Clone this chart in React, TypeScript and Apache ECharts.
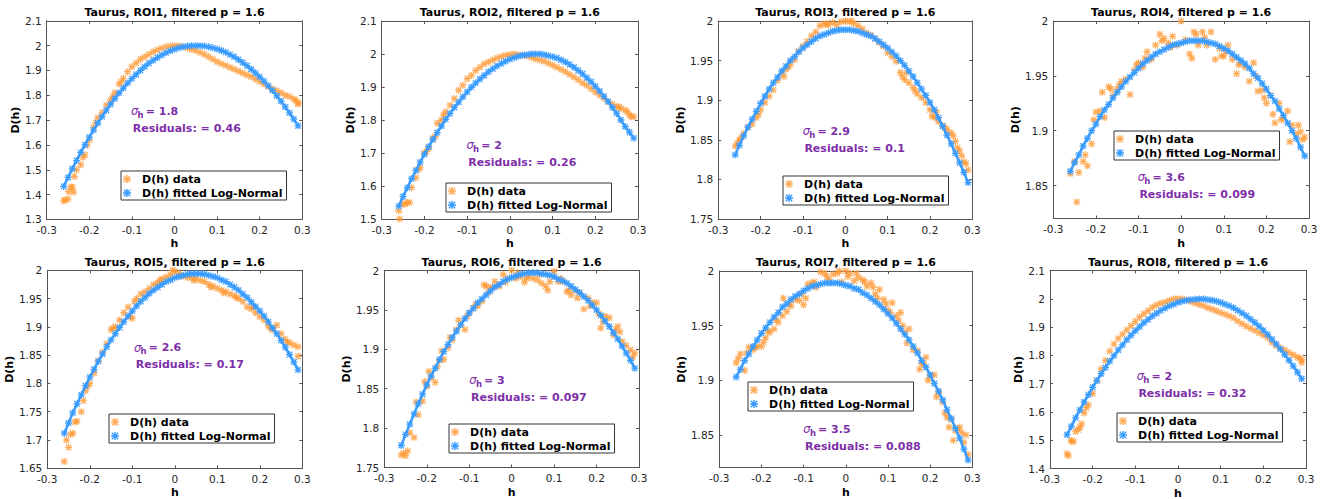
import React, { useEffect, useRef } from "react";
import * as echarts from "echarts";

// ---------- data ----------
const H = [-0.26,-0.25,-0.24,-0.23,-0.22,-0.21,-0.2,-0.19,-0.18,-0.17,-0.16,-0.15,-0.14,-0.13,-0.12,-0.11,-0.1,-0.09,-0.08,-0.07,-0.06,-0.05,-0.04,-0.03,-0.02,-0.01,0,0.01,0.02,0.03,0.04,0.05,0.06,0.07,0.08,0.09,0.1,0.11,0.12,0.13,0.14,0.15,0.16,0.17,0.18,0.19,0.2,0.21,0.22,0.23,0.24,0.25,0.26,0.27,0.28,0.29];

const ROI1_FIT = [1.433,1.469,1.504,1.537,1.570,1.601,1.631,1.660,1.688,1.714,1.740,1.764,1.787,1.809,1.829,1.849,1.867,1.884,1.900,1.915,1.929,1.941,1.952,1.962,1.971,1.979,1.985,1.991,1.995,1.998,2.000,2.000,2.000,1.998,1.995,1.991,1.986,1.980,1.973,1.964,1.955,1.944,1.932,1.919,1.905,1.890,1.874,1.857,1.838,1.819,1.798,1.776,1.753,1.729,1.704,1.677];
const ROI1_DATA = [1.375,1.382,1.430,1.500,1.520,1.560,1.620,1.670,1.710,1.730,1.760,1.780,1.810,1.845,1.868,1.895,1.915,1.930,1.945,1.955,1.965,1.975,1.983,1.990,1.995,1.998,2.000,1.999,1.995,1.990,1.985,1.980,1.972,1.965,1.955,1.945,1.935,1.927,1.920,1.912,1.905,1.897,1.890,1.882,1.875,1.865,1.855,1.845,1.835,1.825,1.818,1.810,1.800,1.795,1.785,1.770];
const ROI1_EXTRA = [[-0.257,1.378],[-0.249,1.412],[-0.243,1.43],[-0.237,1.41],[-0.235,1.473],[-0.215,1.55],[-0.205,1.6],[-0.185,1.69],[-0.145,1.795],[-0.125,1.855],[0.285,1.78],[0.29,1.765]];

const ROI2_FIT = [1.539,1.568,1.595,1.622,1.647,1.672,1.696,1.719,1.741,1.762,1.782,1.802,1.820,1.838,1.854,1.870,1.885,1.899,1.912,1.924,1.935,1.946,1.955,1.964,1.971,1.978,1.984,1.989,1.993,1.996,1.998,2.000,2.000,2.000,1.998,1.995,1.992,1.988,1.982,1.976,1.968,1.960,1.950,1.940,1.928,1.916,1.902,1.888,1.872,1.856,1.838,1.820,1.800,1.780,1.763,1.745];
const ROI2_DATA = [1.525,1.545,1.550,1.595,1.625,1.655,1.700,1.715,1.745,1.790,1.800,1.825,1.845,1.865,1.890,1.905,1.925,1.935,1.950,1.960,1.970,1.976,1.982,1.988,1.992,1.996,1.998,2.000,1.998,1.996,1.994,1.990,1.985,1.982,1.978,1.972,1.966,1.960,1.953,1.946,1.938,1.930,1.922,1.912,1.905,1.895,1.885,1.876,1.866,1.855,1.848,1.840,1.835,1.830,1.815,1.810];
const ROI2_EXTRA = [[-0.258,1.50],[-0.245,1.545],[-0.235,1.55],[-0.215,1.65],[-0.195,1.705],[-0.175,1.75],[-0.155,1.815],[0.255,1.84],[0.275,1.825],[0.285,1.81]];

const ROI3_FIT = [1.831,1.843,1.855,1.866,1.876,1.886,1.896,1.905,1.914,1.922,1.929,1.937,1.943,1.950,1.955,1.961,1.966,1.970,1.974,1.978,1.981,1.983,1.985,1.987,1.988,1.989,1.989,1.989,1.988,1.987,1.985,1.983,1.981,1.978,1.974,1.970,1.966,1.961,1.956,1.950,1.944,1.937,1.930,1.922,1.914,1.906,1.897,1.888,1.878,1.867,1.856,1.845,1.833,1.821,1.809,1.796];
const ROI3_DATA = [1.842,1.850,1.858,1.866,1.870,1.878,1.888,1.897,1.905,1.913,1.925,1.934,1.939,1.945,1.951,1.962,1.968,1.974,1.981,1.986,1.994,1.996,1.995,1.998,1.995,1.999,2.000,1.999,1.997,1.994,1.990,1.985,1.982,1.978,1.973,1.968,1.960,1.955,1.949,1.935,1.926,1.922,1.916,1.908,1.903,1.897,1.888,1.878,1.873,1.868,1.863,1.859,1.848,1.836,1.822,1.812];
const ROI3_EXTRA = [[-0.255,1.846],[-0.245,1.853],[-0.205,1.882],[-0.145,1.93],[-0.135,1.942],[-0.045,1.997],[0.015,2.0],[0.135,1.93],[0.145,1.935],[0.165,1.912],[0.205,1.88],[0.215,1.885],[0.235,1.865],[0.255,1.855],[0.265,1.84],[0.275,1.83],[0.285,1.82]];

const ROI4_FIT = [1.863,1.871,1.878,1.886,1.893,1.900,1.906,1.913,1.919,1.924,1.930,1.935,1.940,1.945,1.949,1.953,1.957,1.961,1.964,1.967,1.970,1.972,1.974,1.976,1.978,1.979,1.980,1.981,1.982,1.982,1.982,1.982,1.981,1.980,1.979,1.977,1.975,1.973,1.970,1.967,1.964,1.961,1.957,1.952,1.948,1.943,1.938,1.932,1.927,1.920,1.914,1.907,1.900,1.893,1.885,1.877];
const ROI4_DATA = [1.861,1.872,1.862,1.872,1.868,1.888,1.917,1.918,1.912,1.940,1.932,1.938,1.945,1.947,1.933,1.955,1.962,1.958,1.972,1.965,1.978,1.988,1.984,1.980,1.986,1.978,2.000,1.983,1.970,1.990,1.978,1.990,1.978,1.990,1.965,1.975,1.968,1.978,1.965,1.952,1.962,1.958,1.945,1.962,1.936,1.937,1.925,1.932,1.907,1.925,1.912,1.918,1.905,1.897,1.899,1.894];
const ROI4_EXTRA = [[-0.245,1.835],[-0.225,1.878],[-0.205,1.91],[-0.185,1.935],[-0.165,1.938],[-0.145,1.942],[-0.105,1.96],[-0.085,1.966],[-0.045,1.982],[-0.025,1.976],[0.025,1.966],[0.035,1.988],[0.055,1.985],[0.095,1.968],[0.105,1.972],[0.135,1.96],[0.175,1.95],[0.195,1.93],[0.215,1.915],[0.235,1.91],[0.255,1.89],[0.275,1.905],[0.285,1.892]];

const ROI5_FIT = [1.712,1.730,1.748,1.764,1.780,1.796,1.811,1.825,1.839,1.852,1.865,1.877,1.888,1.899,1.909,1.919,1.928,1.937,1.945,1.952,1.959,1.965,1.970,1.975,1.980,1.983,1.987,1.989,1.991,1.993,1.994,1.994,1.994,1.993,1.991,1.989,1.987,1.983,1.980,1.975,1.970,1.965,1.958,1.952,1.944,1.936,1.928,1.919,1.909,1.898,1.888,1.876,1.864,1.851,1.838,1.824];
const ROI5_DATA = [1.662,1.687,1.712,1.733,1.750,1.787,1.800,1.818,1.840,1.855,1.870,1.895,1.900,1.912,1.925,1.935,1.915,1.950,1.958,1.962,1.968,1.975,1.978,1.985,1.988,1.992,1.998,1.995,1.990,1.987,1.987,1.985,1.982,1.980,1.975,1.972,1.968,1.965,1.962,1.958,1.955,1.950,1.945,1.935,1.932,1.925,1.918,1.912,1.902,1.895,1.903,1.888,1.878,1.872,1.868,1.865];
const ROI5_EXTRA = [[-0.255,1.70],[-0.245,1.71],[-0.235,1.732],[-0.215,1.77],[-0.205,1.795],[-0.145,1.898],[-0.105,1.918],[-0.095,1.945],[-0.035,1.982],[-0.005,2.0],[0.015,1.99],[0.045,1.982],[0.085,1.97],[0.115,1.96],[0.145,1.952],[0.185,1.935],[0.225,1.898],[0.265,1.872],[0.29,1.848]];

const ROI6_FIT = [1.778,1.792,1.805,1.818,1.831,1.843,1.855,1.866,1.876,1.887,1.897,1.906,1.915,1.923,1.931,1.939,1.946,1.952,1.959,1.964,1.969,1.974,1.979,1.982,1.986,1.989,1.991,1.993,1.995,1.996,1.997,1.997,1.997,1.996,1.995,1.994,1.992,1.989,1.987,1.984,1.980,1.976,1.972,1.967,1.962,1.956,1.950,1.943,1.936,1.929,1.921,1.913,1.904,1.895,1.886,1.876];
const ROI6_DATA = [1.766,1.765,1.794,1.788,1.817,1.834,1.853,1.864,1.858,1.886,1.887,1.902,1.912,1.925,1.931,1.925,1.946,1.952,1.955,1.961,1.980,1.978,1.986,1.980,1.995,1.990,2.000,1.990,1.992,1.985,1.992,1.990,1.988,1.984,1.980,1.986,1.999,1.986,1.986,1.973,1.969,1.975,1.971,1.951,1.965,1.959,1.959,1.927,1.942,1.940,1.918,1.929,1.910,1.905,1.899,1.895];
const ROI6_EXTRA = [[-0.255,1.768],[-0.245,1.771],[-0.225,1.833],[-0.205,1.859],[-0.195,1.872],[-0.175,1.878],[-0.165,1.898],[-0.145,1.915],[-0.125,1.937],[-0.105,1.942],[-0.085,1.957],[-0.065,1.982],[-0.055,1.972],[-0.045,1.978],[-0.015,1.985],[0.015,1.997],[0.035,1.99],[0.065,1.995],[0.085,1.975],[0.115,1.99],[0.135,1.975],[0.155,1.965],[0.185,1.955],[0.205,1.945],[0.215,1.935],[0.245,1.925],[0.255,1.922],[0.285,1.89]];

const ROI7_FIT = [1.903,1.910,1.918,1.924,1.931,1.937,1.943,1.948,1.953,1.958,1.962,1.967,1.970,1.974,1.977,1.979,1.982,1.984,1.986,1.987,1.988,1.989,1.989,1.989,1.989,1.988,1.987,1.986,1.984,1.983,1.980,1.978,1.975,1.972,1.969,1.965,1.961,1.957,1.952,1.947,1.942,1.937,1.931,1.925,1.918,1.912,1.905,1.897,1.890,1.882,1.873,1.865,1.856,1.847,1.837,1.827];
const ROI7_DATA = [1.916,1.924,1.909,1.930,1.928,1.931,1.931,1.939,1.944,1.947,1.953,1.959,1.963,1.968,1.974,1.973,1.969,1.988,1.989,1.985,1.999,1.998,1.992,1.997,1.998,1.990,2.000,1.998,1.991,1.994,1.992,1.986,1.989,1.979,1.983,1.974,1.964,1.971,1.959,1.962,1.944,1.947,1.928,1.927,1.915,1.921,1.904,1.905,1.889,1.880,1.866,1.864,1.854,1.857,1.843,1.832];
const ROI7_EXTRA = [[-0.255,1.92],[-0.235,1.925],[-0.215,1.93],[-0.195,1.935],[-0.185,1.945],[-0.165,1.955],[-0.148,1.975],[-0.135,1.97],[-0.105,1.979],[-0.095,1.975],[-0.075,1.99],[-0.045,1.995],[-0.015,2.0],[0.005,1.995],[0.025,1.998],[0.045,1.99],[0.065,1.985],[0.075,1.975],[0.095,1.97],[0.105,1.962],[0.125,1.955],[0.135,1.95],[0.145,1.934],[0.175,1.91],[0.185,1.915],[0.195,1.9],[0.215,1.885],[0.235,1.87],[0.245,1.857],[0.255,1.845],[0.265,1.855],[0.275,1.852],[0.285,1.85]];

const ROI8_FIT = [1.519,1.549,1.579,1.607,1.635,1.661,1.687,1.711,1.735,1.757,1.779,1.799,1.819,1.837,1.855,1.871,1.887,1.901,1.915,1.927,1.939,1.949,1.959,1.967,1.975,1.981,1.987,1.991,1.995,1.997,1.998,1.999,1.999,1.997,1.995,1.991,1.987,1.981,1.975,1.968,1.959,1.950,1.940,1.928,1.916,1.903,1.889,1.874,1.857,1.840,1.822,1.803,1.783,1.762,1.740,1.717];
const ROI8_DATA = [1.452,1.497,1.531,1.545,1.596,1.625,1.665,1.710,1.752,1.782,1.815,1.840,1.860,1.875,1.890,1.905,1.920,1.935,1.947,1.958,1.970,1.978,1.984,1.988,1.994,1.999,2.000,1.999,1.996,1.990,1.985,1.980,1.975,1.968,1.963,1.957,1.951,1.945,1.939,1.932,1.921,1.912,1.903,1.895,1.888,1.880,1.872,1.862,1.846,1.835,1.826,1.818,1.810,1.802,1.794,1.775];
const ROI8_EXTRA = [[-0.257,1.445],[-0.249,1.499],[-0.245,1.495],[-0.234,1.537],[-0.226,1.558],[-0.215,1.614],[0.285,1.79],[0.29,1.785]];

const FITS = [ROI1_FIT, ROI2_FIT, ROI3_FIT, ROI4_FIT, ROI5_FIT, ROI6_FIT, ROI7_FIT, ROI8_FIT];
const DATAS = [ROI1_DATA, ROI2_DATA, ROI3_DATA, ROI4_DATA, ROI5_DATA, ROI6_DATA, ROI7_DATA, ROI8_DATA];
const EXTRAS = [ROI1_EXTRA, ROI2_EXTRA, ROI3_EXTRA, ROI4_EXTRA, ROI5_EXTRA, ROI6_EXTRA, ROI7_EXTRA, ROI8_EXTRA];

const TITLES = ["Taurus, ROI1, filtered p = 1.6","Taurus, ROI2, filtered p = 1.6","Taurus, ROI3, filtered p = 1.6","Taurus, ROI4, filtered p = 1.6","Taurus, ROI5, filtered p = 1.6","Taurus, ROI6, filtered p = 1.6","Taurus, ROI7, filtered p = 1.6","Taurus, ROI8, filtered p = 1.6"];
const SIGMA_H = ["1.8","2","2.9","3.6","2.6","3","3.5","2"];
const RESIDUALS = ["0.46","0.26","0.1","0.099","0.17","0.097","0.088","0.32"];
const Y_MIN = [1.3,1.5,1.75,1.82,1.65,1.75,1.82,1.4];
const Y_MAX = [2.1,2.1,2.0,2.0,2.0,2.0,2.0,2.1];
const Y_STEP = [0.1,0.1,0.05,0.05,0.05,0.05,0.05,0.1];
const X_MIN = -0.3, X_MAX = 0.3, X_STEP = 0.1;
const LEGEND_NAMES = ["D(h) data", "D(h) fitted Log-Normal"];

// ---------- layout (pixels) ----------
const LAYOUT = [
  { left: 46.7, top: 20.8, width: 255.6, height: 198.6, legend: [121, 171], note: [131, 111], yGap: 22 },
  { left: 381.7, top: 21, width: 256.3, height: 198, legend: [446, 183], note: [466.5, 145], yGap: 22 },
  { left: 718.3, top: 21, width: 254, height: 198, legend: [783, 176], note: [802.7, 131], yGap: 29 },
  { left: 1053.3, top: 21, width: 255.7, height: 197.5, legend: [1114, 131], note: [1137.7, 177], yGap: 29 },
  { left: 47.3, top: 270.3, width: 255, height: 198, legend: [109, 414], note: [134, 347.7], yGap: 28 },
  { left: 384.3, top: 270.5, width: 254.7, height: 197, legend: [449, 424], note: [469.3, 380], yGap: 30 },
  { left: 719.3, top: 271, width: 253, height: 196.7, legend: [748, 382], note: [803.3, 429], yGap: 30 },
  { left: 1050, top: 270.5, width: 256, height: 198, legend: [1117, 413], note: [1136.7, 376], yGap: 22 },
];

const FONT = "DejaVu Sans";
const ORANGE = "#FF9933";
const BLUE = "#3A9CFF";
const PURPLE = "#7E2FA8";
const AXIS = "#555555";
const LABEL = "#262626";
const STAR = "path://M4.1 0H5.9V10H4.1Z M0 4.1H10V5.9H0Z M1.6 0.4L9.6 8.4L8.4 9.6L0.4 1.6Z M8.4 0.4L9.6 1.6L1.6 9.6L0.4 8.4Z";

const fmt = (v: number) => String(parseFloat(v.toFixed(3)));

function buildOption() {
  const grid: any[] = [];
  const xAxis: any[] = [];
  const yAxis: any[] = [];
  const series: any[] = [];
  const legend: any[] = [];
  const elements: any[] = [];

  LAYOUT.forEach((l, i) => {
    grid.push({ left: l.left, top: l.top, width: l.width, height: l.height, containLabel: false, outerBoundsMode: "none" });
    const lineStyle = { color: AXIS, width: 1 };
    const tick = { show: true, inside: true, length: 3, lineStyle: { color: AXIS, width: 1 } };
    xAxis.push({
      gridIndex: i, type: "value", position: "bottom", min: X_MIN, max: X_MAX, interval: X_STEP,
      name: "h", nameLocation: "middle", nameGap: 19,
      nameTextStyle: { fontFamily: FONT, fontSize: 11, fontWeight: "bold", color: "#000" },
      axisLine: { show: true, onZero: false, lineStyle },
      axisTick: tick,
      axisLabel: { show: true, margin: 5, fontFamily: FONT, fontSize: 10.5, color: LABEL, formatter: fmt },
      splitLine: { show: false },
    });
    xAxis.push({
      gridIndex: i, type: "value", position: "top", min: X_MIN, max: X_MAX, interval: X_STEP,
      axisLine: { show: true, onZero: false, lineStyle },
      axisTick: tick, axisLabel: { show: false }, splitLine: { show: false },
    });
    const step = Y_STEP[i];
    const exact = Math.abs(Y_MIN[i] / step - Math.round(Y_MIN[i] / step)) < 1e-6;
    const scaleOpt = exact ? { interval: step } : { minInterval: step, maxInterval: step, splitNumber: 4 };
    yAxis.push({
      gridIndex: i, type: "value", position: "left", min: Y_MIN[i], max: Y_MAX[i], ...scaleOpt,
      name: "D(h)", nameLocation: "middle", nameGap: l.yGap, nameRotate: 90,
      nameTextStyle: { fontFamily: FONT, fontSize: 11, fontWeight: "bold", color: "#000" },
      axisLine: { show: true, onZero: false, lineStyle },
      axisTick: tick,
      axisLabel: { show: true, margin: 5, fontFamily: FONT, fontSize: 10.5, color: LABEL, formatter: fmt, showMinLabel: exact },
      splitLine: { show: false },
    });
    yAxis.push({
      gridIndex: i, type: "value", position: "right", min: Y_MIN[i], max: Y_MAX[i], ...scaleOpt,
      axisLine: { show: true, onZero: false, lineStyle },
      axisTick: tick, axisLabel: { show: false }, splitLine: { show: false },
    });

    const dataPts = H.map((h, k) => [h, DATAS[i][k]]).concat(EXTRAS[i]);
    const fitPts = H.map((h, k) => [h, FITS[i][k]]);
    series.push({
      type: "scatter", name: LEGEND_NAMES[0], xAxisIndex: 2 * i, yAxisIndex: 2 * i,
      data: dataPts, symbol: STAR, symbolSize: 7, itemStyle: { color: ORANGE }, silent: true, z: 2,
    });
    series.push({
      type: "line", name: LEGEND_NAMES[1], xAxisIndex: 2 * i, yAxisIndex: 2 * i,
      data: fitPts, symbol: STAR, symbolSize: 7, showSymbol: true, showAllSymbol: true,
      lineStyle: { color: BLUE, width: 2.5 }, itemStyle: { color: BLUE }, silent: true, z: 3,
    });

    legend.push({
      show: true, orient: "vertical", left: l.legend[0], top: l.legend[1],
      padding: [2, 4, 1, 2], itemGap: 2, itemWidth: 20, itemHeight: 8, symbolKeepAspect: true,
      borderColor: "#333", borderWidth: 1, backgroundColor: "#fff", selectedMode: false, z: 6,
      textStyle: { fontFamily: FONT, fontSize: 11, fontWeight: "bold", color: "#000", lineHeight: 12 },
      data: [
        { name: LEGEND_NAMES[0], icon: STAR, itemStyle: { color: ORANGE } },
        { name: LEGEND_NAMES[1], icon: STAR, itemStyle: { color: BLUE } },
      ],
    });

    elements.push({
      type: "text", x: l.left + l.width / 2, y: i < 4 ? 12.5 : 262, silent: true,
      style: { text: TITLES[i], fontFamily: FONT, fontSize: 11, fontWeight: "bold", fill: "#000", align: "center", verticalAlign: "middle" },
    });
    elements.push({
      type: "group", x: l.note[0], y: l.note[1], silent: true,
      children: [
        { type: "text", x: 0, y: 0, style: { text: "σ", fontFamily: FONT, fontSize: 11.5, fontStyle: "italic", fill: PURPLE, verticalAlign: "middle" } },
        { type: "text", x: 6.6, y: 3.5, style: { text: "h", fontFamily: FONT, fontSize: 8.5, fontWeight: "bold", fill: PURPLE, verticalAlign: "middle" } },
        { type: "text", x: 14.7, y: 0, style: { text: "= " + SIGMA_H[i], fontFamily: FONT, fontSize: 11, fontWeight: "bold", fill: PURPLE, verticalAlign: "middle" } },
        { type: "text", x: 1.7, y: 17, style: { text: "Residuals: = " + RESIDUALS[i], fontFamily: FONT, fontSize: 11, fontWeight: "bold", fill: PURPLE, verticalAlign: "middle" } },
      ],
    });
  });

  return {
    animation: false,
    backgroundColor: "#ffffff",
    grid, xAxis, yAxis, series, legend,
    graphic: { elements },
  };
}

export default function App() {
  const ref = useRef<HTMLDivElement | null>(null);
  useEffect(() => {
    if (!ref.current) return;
    const chart = echarts.init(ref.current, undefined, { renderer: "svg" });
    chart.setOption(buildOption() as any);
    return () => chart.dispose();
  }, []);
  return (
    <div
      ref={ref}
      style={{ position: "absolute", left: 0, top: 0, width: 1327, height: 499, background: "#fff" }}
    />
  );
}
